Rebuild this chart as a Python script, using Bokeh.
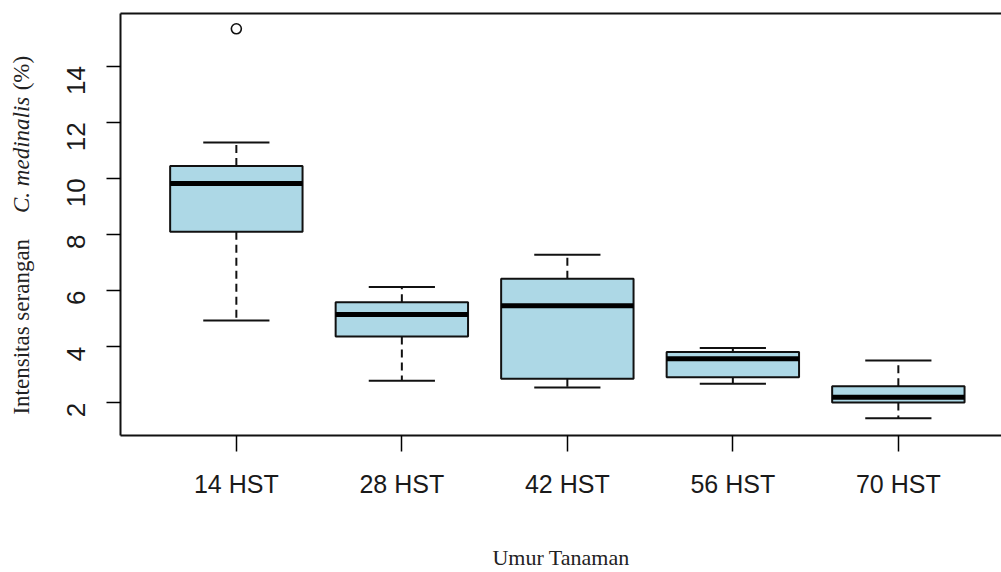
import math
from bokeh.plotting import figure
from bokeh.layouts import row
from bokeh.models import Range1d, FixedTicker, LinearAxis
from bokeh.embed import file_html
from bokeh.resources import INLINE
from bokeh.core.properties import value

# ---- data ----
categories = ["14 HST", "28 HST", "42 HST", "56 HST", "70 HST"]
lower_whisker = [4.94, 2.79, 2.55, 2.68, 1.45]
q1 = [8.10, 4.37, 2.86, 2.91, 2.01]
median = [9.82, 5.15, 5.46, 3.57, 2.20]
q3 = [10.44, 5.59, 6.42, 3.81, 2.59]
upper_whisker = [11.28, 6.13, 7.28, 3.96, 3.51]
outlier_group = ["14 HST"]
outlier_value = [15.33]
y_ticks = [2, 4, 6, 8, 10, 12, 14]
y_title_parts = ["Intensitas  serangan", "C. medinalis", "(%)"]
y_title_styles = ["normal", "italic", "normal"]
x_title = "Umur Tanaman"

# ---- layout ----
W, H = 1001, 572
TW = 40                      # width of the strip that holds the y title
MW = W - TW
LEFT, TOP, BOTTOM = 120 - TW, 13, 136
frame_w = MW - LEFT
x0 = 0.3
px_per_x = 165.5
x1 = x0 + frame_w / px_per_x
y0, y1 = 0.838, 15.875

pos = [i + 1 for i in range(len(categories))]
box_w = 0.8
cap_w = 0.4

p = figure(width=MW, height=H, output_backend="svg", toolbar_location=None,
           x_range=Range1d(x0, x1), y_range=Range1d(y0, y1),
           min_border_left=LEFT, min_border_right=0, min_border_top=TOP,
           min_border_bottom=BOTTOM, x_axis_location=None, y_axis_location=None)
p.outline_line_color = None
p.xgrid.visible = False
p.ygrid.visible = False
p.background_fill_color = "white"
p.border_fill_color = "white"

# axes
yax = LinearAxis(ticker=FixedTicker(ticks=y_ticks))
yax.axis_line_width = 2
yax.axis_line_color = "#111111"
yax.major_tick_out = 14
yax.major_tick_in = 0
yax.major_tick_line_width = 1.5
yax.minor_tick_line_color = None
yax.major_label_orientation = math.pi / 2
yax.major_label_standoff = 30
yax.major_label_text_font = "Liberation Sans"
yax.major_label_text_font_size = "26px"
yax.major_label_text_color = "#1a1a1a"
p.add_layout(yax, "left")

xax = LinearAxis(ticker=FixedTicker(ticks=pos), axis_label=x_title)
xax.major_label_overrides = {i + 1: c for i, c in enumerate(categories)}
xax.axis_line_width = 2
xax.axis_line_color = "#111111"
xax.major_tick_out = 16
xax.major_tick_in = 0
xax.major_tick_line_width = 1.5
xax.minor_tick_line_color = None
xax.major_label_standoff = 18
xax.major_label_text_font = "Liberation Sans"
xax.major_label_text_font_size = "25px"
xax.major_label_text_color = "#1a1a1a"
xax.axis_label_standoff = 44
xax.axis_label_text_font = "Liberation Serif"
xax.axis_label_text_font_style = "normal"
xax.axis_label_text_font_size = "22px"
xax.axis_label_text_color = "#222222"
p.add_layout(xax, "below")

tax = LinearAxis(ticker=FixedTicker(ticks=[]))
tax.axis_line_width = 2
tax.axis_line_color = "#111111"
tax.major_tick_out = 0
tax.major_tick_in = 0
tax.minor_tick_out = 0
tax.minor_tick_in = 0
tax.major_label_standoff = 0
tax.major_label_text_font_size = "0px"
p.add_layout(tax, "above")

# whiskers
p.segment(x0=pos, y0=q3, x1=pos, y1=upper_whisker, line_color="#111111",
          line_width=2, line_dash="8 5")
p.segment(x0=pos, y0=q1, x1=pos, y1=lower_whisker, line_color="#111111",
          line_width=2, line_dash="8 5")
# caps
p.segment(x0=[x - cap_w / 2 for x in pos], y0=upper_whisker,
          x1=[x + cap_w / 2 for x in pos], y1=upper_whisker,
          line_color="#111111", line_width=2)
p.segment(x0=[x - cap_w / 2 for x in pos], y0=lower_whisker,
          x1=[x + cap_w / 2 for x in pos], y1=lower_whisker,
          line_color="#111111", line_width=2)
# boxes
p.vbar(x=pos, width=box_w, bottom=q1, top=q3, fill_color="#ADD8E6",
       line_color="#111111", line_width=2)
# medians
p.segment(x0=[x - box_w / 2 for x in pos], y0=median,
          x1=[x + box_w / 2 for x in pos], y1=median,
          line_color="black", line_width=5)
# outliers
p.scatter(x=[categories.index(g) + 1 for g in outlier_group], y=outlier_value,
          marker="circle", size=10, fill_color=None, line_color="#111111",
          line_width=1.6)

# strip with the y-axis title; its frame is aligned with the main frame,
# so its y range is given in canvas pixels measured from the bottom
t = figure(width=TW, height=H, output_backend="svg", toolbar_location=None,
           x_range=Range1d(0, TW), y_range=Range1d(BOTTOM, H - TOP),
           min_border_left=0, min_border_right=0, min_border_top=TOP,
           min_border_bottom=BOTTOM, x_axis_location=None,
           y_axis_location=None)
t.outline_line_color = None
t.xgrid.visible = False
t.ygrid.visible = False
t.border_fill_color = "white"
t.background_fill_color = "white"
starts_from_top = [415, 213, 90]
for txt, sty, yt in zip(y_title_parts, y_title_styles, starts_from_top):
    t.text(x=[21], y=[H - yt], text=[txt], angle=math.pi / 2,
           text_align="left", text_baseline="middle",
           text_font=value("Liberation Serif"), text_font_style=sty,
           text_font_size="23px", text_color="#222222")

layout = row(t, p, spacing=0)
open("out.html", "w").write(file_html(layout, INLINE))
